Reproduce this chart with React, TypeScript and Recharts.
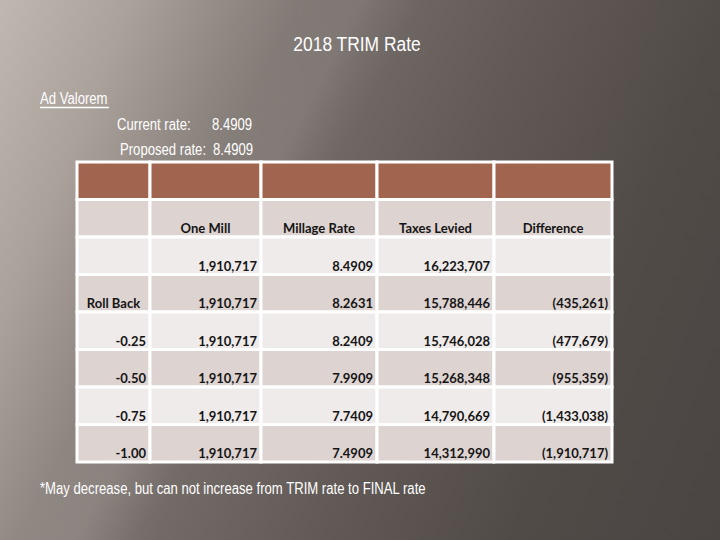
import React from 'react';
import { ComposedChart, XAxis, YAxis, ReferenceArea } from 'recharts';

const columnHeaders = ['', 'One Mill', 'Millage Rate', 'Taxes Levied', 'Difference'];
const rowLabels = ['', 'Roll Back', '-0.25', '-0.50', '-0.75', '-1.00'];
const oneMill = [1910717, 1910717, 1910717, 1910717, 1910717, 1910717];
const millageRate = [8.4909, 8.2631, 8.2409, 7.9909, 7.7409, 7.4909];
const taxesLevied = [16223707, 15788446, 15746028, 15268348, 14790669, 14312990];
const difference = [null, -435261, -477679, -955359, -1433038, -1910717];
const currentRate = 8.4909;
const proposedRate = 8.4909;

// table layout (pixel widths of the five columns)
const colWidths = [73, 111, 116, 117, 118];
const colEdges = colWidths.reduce<number[]>((acc, w) => [...acc, acc[acc.length - 1] + w], [0]);
const ROW_COUNT = rowLabels.length + 2;

const BROWN = '#a1644f';
const DARK = '#ddd3d1';
const LIGHT = '#efebea';

const fmtInt = (v: number) => v.toLocaleString('en-US');
const fmtDiff = (v: number | null) => (v == null ? '' : v < 0 ? `(${fmtInt(-v)})` : fmtInt(v));

type Cell = { col: number; row: number; text: string; pos: string; fill: string };

const buildCells = (): Cell[] => {
  const cells: Cell[] = [];
  columnHeaders.forEach((h, c) => {
    cells.push({ col: c, row: 0, text: '', pos: 'insideBottom', fill: BROWN });
    cells.push({ col: c, row: 1, text: h, pos: 'insideBottom', fill: DARK });
  });
  rowLabels.forEach((label, i) => {
    const row = i + 2;
    const fill = row % 2 === 0 ? LIGHT : DARK;
    const values = [
      label,
      fmtInt(oneMill[i]),
      millageRate[i].toFixed(4),
      fmtInt(taxesLevied[i]),
      fmtDiff(difference[i]),
    ];
    values.forEach((text, c) => {
      const pos = c === 0 && label === 'Roll Back' ? 'insideBottom' : 'insideBottomRight';
      cells.push({ col: c, row, text, pos, fill });
    });
  });
  return cells;
};

const cells = buildCells();

const cellFont = { fontFamily: 'Lato, "Open Sans", sans-serif', fontSize: 13, fontWeight: 700, fill: '#151515' };
const slideFont = '"Liberation Sans", Arial, sans-serif';

// slide text, squeezed sideways like the narrow font of the original
const SlideText = ({ x, y, size = 16, sx = 0.82, anchor = 'start', children }: any) => (
  <text
    transform={`translate(${x},${y}) scale(${sx},1)`}
    textAnchor={anchor}
    fill="#ffffff"
    fontFamily={slideFont}
    fontSize={size}
  >
    {children}
  </text>
);

export default function App() {
  return (
    <div
      style={{
        position: 'fixed',
        left: 0,
        top: 0,
        width: 720,
        height: 540,
        background:
          'linear-gradient(118deg, rgba(255,255,255,0) 0%, rgba(255,255,255,0) 30%, rgba(255,255,255,0.07) 36%, rgba(255,255,255,0) 42%), linear-gradient(112deg, #c0b7b1 0%, #aba19b 14%, #8e8681 26%, #726a66 40%, #605955 58%, #514b48 78%, #4a4542 100%)',
      }}
    >
      <ComposedChart
        width={720}
        height={540}
        data={[{}]}
        margin={{ top: 162, right: 108, bottom: 78, left: 77 }}
      >
        <XAxis type="number" dataKey="x" domain={[0, colEdges[colEdges.length - 1]]} hide allowDataOverflow />
        <YAxis type="number" dataKey="y" domain={[0, ROW_COUNT]} reversed hide allowDataOverflow />
        <ReferenceArea
          x1={0}
          x2={colEdges[colEdges.length - 1]}
          y1={0}
          y2={ROW_COUNT}
          fill="#ffffff"
          fillOpacity={1}
          stroke="#ffffff"
          strokeWidth={2}
          ifOverflow="visible"
        />
        {cells.map((c, i) => (
          <ReferenceArea
            key={i}
            x1={colEdges[c.col]}
            x2={colEdges[c.col + 1]}
            y1={c.row}
            y2={c.row + 1}
            fill={c.fill}
            fillOpacity={1}
            stroke="#ffffff"
            strokeWidth={3}
            ifOverflow="visible"
            label={c.text ? { value: c.text, position: c.pos, offset: 4, ...cellFont } : undefined}
          />
        ))}
        <SlideText x={357} y={51} size={20} sx={0.87} anchor="middle">2018 TRIM Rate</SlideText>
        <SlideText x={40} y={104}>Ad Valorem</SlideText>
        <line x1={40} x2={109} y1={107.5} y2={107.5} stroke="#ffffff" strokeWidth={1.5} />
        <SlideText x={117} y={130}>Current rate:</SlideText>
        <SlideText x={212} y={130}>{currentRate.toFixed(4)}</SlideText>
        <SlideText x={120} y={155}>Proposed rate:</SlideText>
        <SlideText x={213} y={155}>{proposedRate.toFixed(4)}</SlideText>
        <SlideText x={40} y={494}>*May decrease, but can not increase from TRIM rate to FINAL rate</SlideText>
      </ComposedChart>
    </div>
  );
}
